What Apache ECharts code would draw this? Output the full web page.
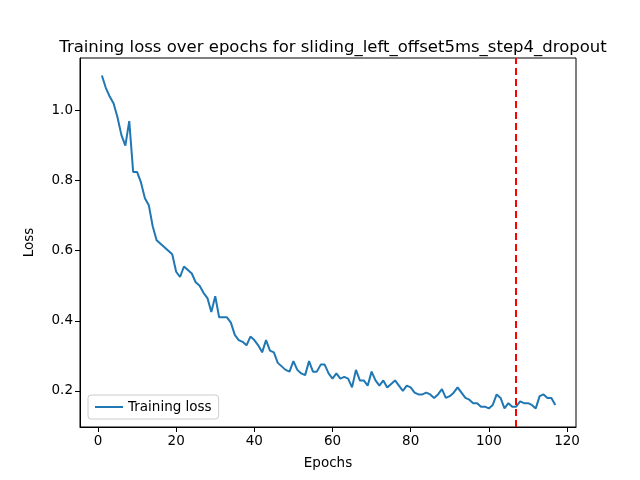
<!DOCTYPE html>
<html><head><meta charset="utf-8">
<script src="https://cdn.jsdelivr.net/npm/echarts@6/dist/echarts.min.js"></script>
<style>html,body{margin:0;padding:0;background:#fff}#c{width:640px;height:480px}</style>
</head><body><div id="c"></div>
<script>
const lossValues = [1.10,1.065,1.04,1.02,0.98,0.93,0.90,0.97,0.825,0.825,0.795,0.75,0.73,0.67,0.63,0.62,0.61,0.60,0.59,0.54,
0.525,0.555,0.545,0.535,0.51,0.50,0.48,0.465,0.425,0.47,0.41,0.41,0.41,0.395,0.36,0.345,0.34,0.33,0.355,0.345,
0.33,0.31,0.345,0.315,0.31,0.28,0.27,0.26,0.255,0.285,0.26,0.25,0.245,0.285,0.255,0.255,0.275,0.275,0.25,0.235,
0.25,0.235,0.24,0.235,0.21,0.26,0.23,0.23,0.215,0.255,0.23,0.215,0.23,0.21,0.22,0.23,0.215,0.2,0.215,0.21,
0.195,0.19,0.19,0.195,0.19,0.18,0.19,0.205,0.18,0.185,0.195,0.21,0.195,0.18,0.175,0.165,0.165,0.155,0.155,0.15,
0.16,0.19,0.18,0.15,0.165,0.155,0.155,0.17,0.165,0.165,0.16,0.15,0.185,0.19,0.18,0.18,0.16];
const epochs = lossValues.map((v,i)=>i+1);
const xTicks = [0,20,40,60,80,100,120];
const yTicks = [0.2,0.4,0.6,0.8,1.0];
const bestEpoch = 107;
const font = 'DejaVu Sans';
const chart = echarts.init(document.getElementById('c'));
chart.setOption({
  animation:false,
  textStyle:{fontFamily:font},
  title:{text:'Training loss over epochs for sliding_left_offset5ms_step4_dropout',left:328,top:34,textAlign:'center',
    textStyle:{fontSize:16.5,fontWeight:'normal',color:'#000',fontFamily:font}},
  grid:{left:80,right:64,top:58,bottom:53},
  legend:{left:88,bottom:61,orient:'vertical',itemWidth:28,itemHeight:2,itemGap:4,borderColor:'#ccc',borderWidth:1,borderRadius:3,padding:[5,7],
    textStyle:{fontSize:13.5,color:'#000',fontFamily:font},data:[{name:'Training loss',icon:'rect'}]},
  xAxis:{type:'value',min:-4.6,max:122.3,name:'Epochs',nameLocation:'middle',nameGap:29,
    nameTextStyle:{fontSize:13.5,color:'#000'},
    axisLine:{onZero:false,lineStyle:{color:'#000'}},splitLine:{show:false},
    axisTick:{show:true,customValues:xTicks,length:5,lineStyle:{color:'#000'}},
    axisLabel:{customValues:xTicks,fontSize:13.5,color:'#000',margin:7}},
  yAxis:{type:'value',min:0.097,max:1.15,name:'Loss',nameLocation:'middle',nameGap:44,
    nameTextStyle:{fontSize:13.5,color:'#000'},
    axisLine:{show:true,onZero:false,lineStyle:{color:'#000'}},splitLine:{show:false},
    axisTick:{show:true,customValues:yTicks,length:5,lineStyle:{color:'#000'}},
    axisLabel:{customValues:yTicks,fontSize:13.5,color:'#000',margin:7,formatter:v=>v.toFixed(1)}},
  series:[{name:'Training loss',type:'line',data:epochs.map((e,i)=>[e,lossValues[i]]),
    showSymbol:false,color:'#1f77b4',lineStyle:{width:2,color:'#1f77b4'},
    markLine:{symbol:'none',silent:true,label:{show:false},
      lineStyle:{color:'#ff0000',type:[7,4],width:2},data:[{xAxis:bestEpoch}]}}]
});
chart.setOption({graphic:[{type:'rect',shape:{x:80,y:58,width:496,height:369},style:{fill:'none',stroke:'#000',lineWidth:1},silent:true}]});
</script></body></html>
